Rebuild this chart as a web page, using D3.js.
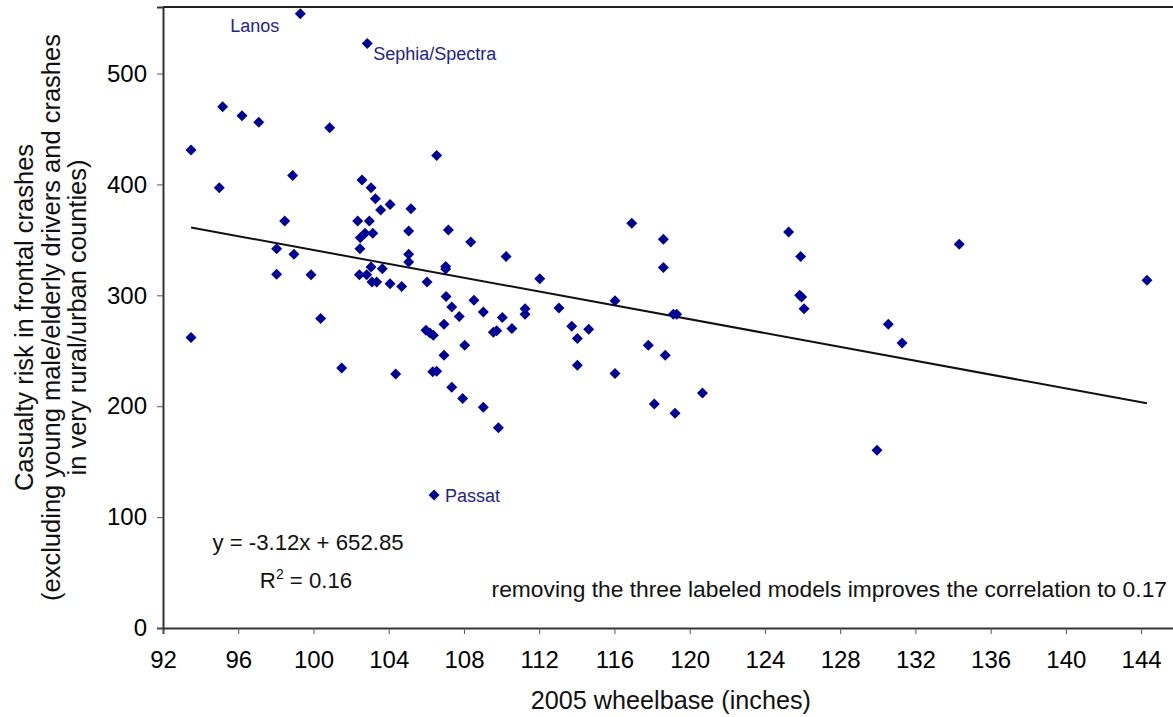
<!DOCTYPE html>
<html><head><meta charset="utf-8">
<script src="https://cdn.jsdelivr.net/npm/d3@7"></script>
<style>
body{margin:0;background:#fff;}
svg{display:block;}
text{font-family:"Liberation Sans",Arial,Helvetica,sans-serif;}
</style>
</head><body>
<svg id="chart" width="1173" height="717"></svg>
<script>
// ---- data ----
const wheelbase = [
  99.30,102.86,95.17,96.20,97.09,100.86,93.49,106.55,94.99,98.89,
  102.58,103.06,103.29,103.57,104.07,105.18,98.47,102.35,102.97,105.06,
  107.17,108.36,102.49,102.74,103.15,98.04,102.47,98.96,105.06,105.06,
  110.24,103.06,103.66,107.03,107.03,98.04,99.87,102.44,102.83,103.11,
  103.36,104.07,104.69,106.04,112.03,107.05,107.35,108.53,107.75,109.03,
  110.04,111.25,111.25,100.38,93.49,106.94,105.98,106.19,106.37,109.56,
  109.74,110.55,108.04,106.94,101.50,104.37,106.34,106.55,107.35,107.93,
  109.03,109.83,106.41,116.92,118.60,118.60,113.05,116.03,119.13,119.31,
  113.73,114.63,114.03,117.80,118.70,114.03,116.03,120.68,118.12,119.22,
  125.26,125.90,125.85,125.95,126.08,134.33,130.56,131.29,129.96,144.31
];
const risk = [
  554,527,470,462,456,451,431,426,397,408,
  404,397,387,377,382,378,367,367,367,358,
  359,348,352,356,356,342,342,337,337,330,
  335,325.5,324,326,323.7,319,318.6,318.6,318.6,312,
  312,310.5,308,312,315,299,289.5,295.5,281,285,
  280,288,283,279,262,274,268.5,266,264,266.7,
  268,270,255,246,234.5,229,231,231.5,217,207,
  199,180.5,120,365,350.5,325,288.6,295,283,283,
  272,269.4,261,255,246,237,229.5,212,202,193.7,
  357,335,300,298.5,288,346,274,257,160.4,313.5
];
const labelNames = ["Lanos", "Sephia/Spectra", "Passat"];
const labelIndex = [0, 1, 72];
const labelSide = ["left", "right", "right"];

const xTicks = [92,96,100,104,108,112,116,120,124,128,132,136,140,144];
const yTicks = [0,100,200,300,400,500];
const xDomain = [92, 146];
const yDomain = [0, 560];

const trendSlope = -3.12;
const trendIntercept = 652.85;
const trendRange = [93.49, 144.31];

const equationText = "y = -3.12x + 652.85";
const r2Value = "0.16";
const noteText = "removing the three labeled models improves the correlation to 0.17";
const xTitle = "2005 wheelbase (inches)";
const yTitleLines = [
  "Casualty risk in frontal crashes",
  "(excluding young male/elderly drivers and crashes",
  "in very rural/urban counties)"
];

// ---- layout ----
const plot = {left: 163, top: 7, bottom: 628};
const x = d3.scaleLinear().domain(xDomain).range([plot.left, plot.left + 54 * 18.81]);
const y = d3.scaleLinear().domain(yDomain).range([plot.bottom, plot.top]);

const svg = d3.select("#chart");
const markColor = "#00009a";
const labelColor = "#23238f";

// top border
svg.append("line")
  .attr("x1", x(xDomain[0])).attr("x2", x(xDomain[1]))
  .attr("y1", y(yDomain[1])).attr("y2", y(yDomain[1]))
  .attr("stroke", "#222").attr("stroke-width", 2);

// axes
const xAxis = svg.append("g")
  .attr("transform", `translate(0,${plot.bottom})`)
  .call(d3.axisBottom(x).tickValues(xTicks).tickFormat(d3.format("d")).tickSizeOuter(0).tickSize(6));
xAxis.select(".domain").attr("stroke", "#333").attr("stroke-width", 2);
xAxis.selectAll(".tick line").attr("stroke", "#555");
xAxis.selectAll(".tick text").attr("dy", null).attr("y", 40)
  .attr("font-size", 24).attr("fill", "#000")
  .style("font-family", "'Liberation Sans', Arial, sans-serif");

const yAxis = svg.append("g")
  .attr("transform", `translate(${plot.left},0)`)
  .call(d3.axisLeft(y).tickValues(yTicks).tickFormat(d3.format("d")).tickSizeOuter(0).tickSize(6).tickPadding(10));
yAxis.select(".domain").attr("stroke", "#333").attr("stroke-width", 2);
yAxis.selectAll(".tick line").attr("stroke", "#555");
yAxis.selectAll(".tick text").attr("font-size", 24).attr("fill", "#000")
  .style("font-family", "'Liberation Sans', Arial, sans-serif");

// trend line
svg.append("line")
  .attr("x1", x(trendRange[0])).attr("y1", y(trendSlope * trendRange[0] + trendIntercept))
  .attr("x2", x(trendRange[1])).attr("y2", y(trendSlope * trendRange[1] + trendIntercept))
  .attr("stroke", "#111").attr("stroke-width", 2);

// points
const diamond = "M0,-5.5L5.5,0L0,5.5L-5.5,0Z";
svg.append("g").selectAll("path")
  .data(wheelbase.map((w, i) => [w, risk[i]]))
  .join("path")
  .attr("d", diamond)
  .attr("transform", d => `translate(${x(d[0])},${y(d[1])})`)
  .attr("fill", markColor);

// point labels
svg.append("g").selectAll("text")
  .data(labelNames.map((n, i) => ({name: n, idx: labelIndex[i], side: labelSide[i]})))
  .join("text")
  .attr("x", d => x(wheelbase[d.idx]) + (d.side === "left" ? -21 : (d.idx === 1 ? 6 : 11)))
  .attr("y", d => y(risk[d.idx]) + (d.idx === 0 ? 18 : (d.idx === 1 ? 16 : 7)))
  .attr("text-anchor", d => d.side === "left" ? "end" : "start")
  .attr("font-size", 18).attr("fill", labelColor)
  .text(d => d.name);

// equation + R2
svg.append("text").attr("x", 308).attr("y", 550)
  .attr("text-anchor", "middle").attr("font-size", 22.2).attr("fill", "#111")
  .text(equationText);
const r2 = svg.append("text").attr("x", 306).attr("y", 588)
  .attr("text-anchor", "middle").attr("font-size", 22.2).attr("fill", "#111");
r2.append("tspan").text("R");
r2.append("tspan").attr("dy", -9).attr("font-size", 14).text("2");
r2.append("tspan").attr("dy", 9).text(" = " + r2Value);

// note
svg.append("text").attr("x", 1167).attr("y", 597)
  .attr("text-anchor", "end").attr("font-size", 22.8).attr("fill", "#111")
  .text(noteText);

// axis titles
svg.append("text").attr("x", (plot.left + x(xDomain[1])) / 2).attr("y", 709)
  .attr("text-anchor", "middle").attr("font-size", 25.2).attr("fill", "#111")
  .text(xTitle);

const yt = svg.append("text")
  .attr("transform", `translate(33,${(plot.top + plot.bottom) / 2}) rotate(-90)`)
  .attr("text-anchor", "middle").attr("font-size", 25.5).attr("fill", "#111");
yTitleLines.forEach((line, i) => {
  yt.append("tspan").attr("x", 0).attr("dy", i === 0 ? 0 : 26.5).text(line);
});
</script>
</body></html>
